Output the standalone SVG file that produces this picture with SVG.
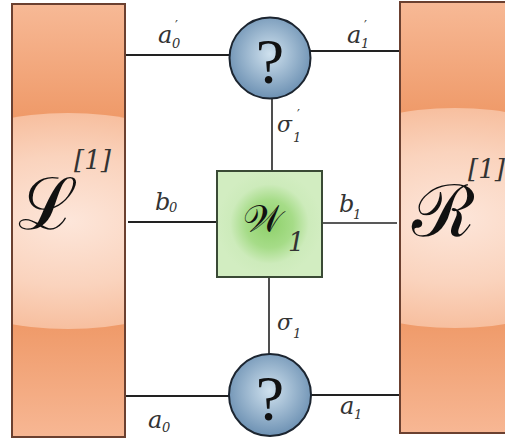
<svg xmlns="http://www.w3.org/2000/svg" width="505" height="441" viewBox="0 0 505 441">
<style>
.edge{stroke:#222;stroke-width:2;fill:none}
.lbl{font-family:"DejaVu Serif","Liberation Serif",serif;font-style:italic;fill:#333}
.sub{font-family:"DejaVu Serif","Liberation Serif",serif;font-style:italic;fill:#333;font-size:13px}
.pr{font-family:"DejaVu Serif","Liberation Serif",serif;fill:#333;font-size:13px}
.big{font-family:"DejaVu Serif","Liberation Serif",serif;fill:#111}
.q{font-family:"Liberation Serif",serif;font-size:64px;fill:#111}
</style>
<defs>
<linearGradient id="og" x1="0" y1="0" x2="0" y2="1">
<stop offset="0" stop-color="#f7b996"/>
<stop offset="0.26" stop-color="#ef9a69"/>
<stop offset="0.74" stop-color="#ef9a69"/>
<stop offset="1" stop-color="#f7b794"/>
</linearGradient>
<radialGradient id="gloss" cx="0.5" cy="0.5" r="0.5">
<stop offset="0" stop-color="#fde6da"/>
<stop offset="0.6" stop-color="#fad3bd"/>
<stop offset="1" stop-color="#f7bf9f"/>
</radialGradient>
<radialGradient id="blue" cx="0.5" cy="0.45" r="0.55">
<stop offset="0" stop-color="#cfe1ee"/>
<stop offset="1" stop-color="#6d91b3"/>
</radialGradient>
<radialGradient id="green" cx="0.5" cy="0.5" r="0.5">
<stop offset="0" stop-color="#8ed06a"/>
<stop offset="0.45" stop-color="#a6dc88"/>
<stop offset="0.75" stop-color="#cdebbb"/>
<stop offset="1" stop-color="#d2edc1"/>
</radialGradient>
<clipPath id="cl"><rect x="12" y="4" width="113" height="433"/></clipPath>
<clipPath id="cr"><rect x="400" y="2" width="110" height="431"/></clipPath>
</defs>

<g id="connectors">
<line class="edge" x1="125" y1="55" x2="230" y2="55"/>
<line class="edge" x1="310" y1="51" x2="400" y2="51"/>
<line class="edge" x1="272" y1="98" x2="272" y2="171" style="stroke-width:1.6"/>
<line class="edge" x1="128" y1="222" x2="217" y2="222"/>
<line class="edge" x1="322" y1="223" x2="397" y2="223" style="stroke-width:1.6"/>
<line class="edge" x1="269" y1="277" x2="269" y2="355" style="stroke-width:1.6"/>
<line class="edge" x1="124" y1="396" x2="229" y2="396"/>
<line class="edge" x1="311" y1="395" x2="400" y2="395"/>
<text class="lbl" font-size="24" x="158" y="43">a</text><text class="sub" x="172" y="48">0</text><text class="pr" x="175" y="30">′</text>
<text class="lbl" font-size="24" x="347" y="43">a</text><text class="sub" x="361" y="48">1</text><text class="pr" x="364" y="30">′</text>
<text class="lbl" font-size="22" x="277" y="132">σ</text><text class="sub" x="293" y="142">1</text><text class="pr" x="297" y="119">′</text>
<text class="lbl" font-size="24" x="155" y="210">b</text><text class="sub" x="169" y="212">0</text>
<text class="lbl" font-size="24" x="339" y="212">b</text><text class="sub" x="353" y="219">1</text>
<text class="lbl" font-size="22" x="277" y="330">σ</text><text class="sub" x="293" y="338">1</text>
<text class="lbl" font-size="24" x="148" y="428">a</text><text class="sub" x="162" y="432">0</text>
<text class="lbl" font-size="24" x="340" y="414">a</text><text class="sub" x="354" y="419">1</text>
</g>

<g id="L">
<rect x="12" y="4" width="113" height="433" fill="url(#og)"/>
<ellipse cx="68" cy="221" rx="190" ry="108" fill="url(#gloss)" clip-path="url(#cl)"/>
<rect x="12" y="4" width="113" height="433" fill="none" stroke="#6b4030" stroke-width="2"/>
<text class="big" font-size="72" x="18" y="229">ℒ</text>
<text class="lbl" font-size="26" x="74" y="169" fill="#111">[1]</text>
</g>

<g id="R">
<rect x="400" y="2" width="110" height="431" fill="url(#og)"/>
<ellipse cx="455" cy="218" rx="190" ry="110" fill="url(#gloss)" clip-path="url(#cr)"/>
<rect x="400" y="2" width="110" height="431" fill="none" stroke="#6b4030" stroke-width="2"/>
<text class="big" font-size="72" x="412" y="236">ℛ</text>
<text class="lbl" font-size="26" x="468" y="178" fill="#111">[1]</text>
</g>

<g id="Qtop">
<circle cx="270" cy="58" r="40.5" fill="url(#blue)" stroke="#1c2530" stroke-width="2"/>
<text class="q" x="270" y="83" text-anchor="middle">?</text>
</g>

<g id="W1">
<rect x="217" y="171" width="105" height="106" fill="url(#green)" stroke="#3a4a35" stroke-width="2"/>
<text class="big" font-size="38" x="243" y="232">𝒲</text>
<text class="lbl" font-size="26" x="288" y="251" fill="#111">1</text>
</g>

<g id="Qbot">
<circle cx="270" cy="395" r="41" fill="url(#blue)" stroke="#1c2530" stroke-width="2"/>
<text class="q" x="270" y="420" text-anchor="middle">?</text>
</g>
</svg>
